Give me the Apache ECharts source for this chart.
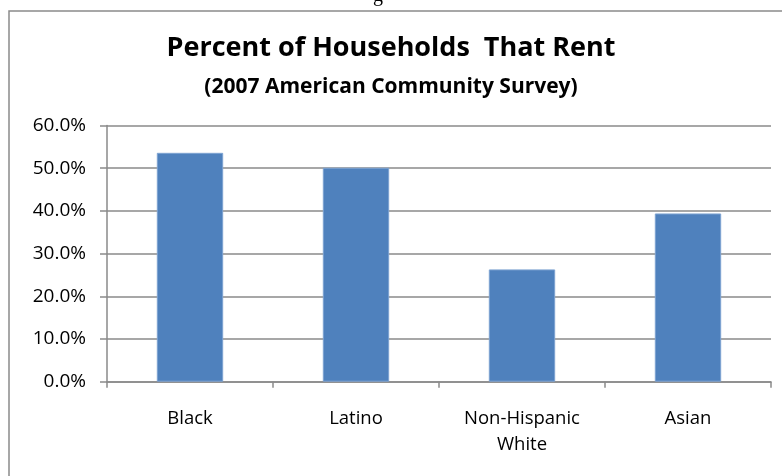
<!DOCTYPE html>
<html>
<head>
<meta charset="utf-8">
<script src="https://cdn.jsdelivr.net/npm/echarts@6/dist/echarts.min.js"></script>
<style>
  html, body { margin: 0; padding: 0; background: #fff; }
  #chart { width: 782px; height: 476px; }
</style>
</head>
<body>
<div id="chart"></div>
<script>
// datos del grafico
var categorias = ['Black', 'Latino', 'Non-Hispanic\nWhite', 'Asian'];
var porcentajes = [53.6, 50.1, 26.3, 39.4];
var ticksY = [0, 10, 20, 30, 40, 50, 60];

var fuente = '"Open Sans", sans-serif';
var gris = '#8a8a8a';

var myChart = echarts.init(document.getElementById('chart'));

myChart.setOption({
    animation: false,
    title: [
        {
            text: 'Percent of Households  That Rent',
            left: 'center',
            top: 30,
            textStyle: { fontFamily: fuente, fontWeight: 'bold', fontSize: 27, color: '#000' }
        },
        {
            text: '(2007 American Community Survey)',
            left: 'center',
            top: 72,
            textStyle: { fontFamily: fuente, fontWeight: 'bold', fontSize: 21, color: '#000' }
        }
    ],
    graphic: [
        {
            // marco exterior del grafico
            type: 'rect',
            shape: { x: 9, y: 11, width: 800, height: 500 },
            style: { fill: 'none', stroke: gris, lineWidth: 1.5 }
        },
        {
            type: 'text',
            left: 373,
            top: -14,
            style: { text: 'g', font: '20px "Liberation Serif"', fill: '#000' }
        }
    ],
    grid: {
        left: 107,
        right: 11,
        top: 125.5,
        bottom: 94.3
    },
    xAxis: {
        type: 'category',
        data: categorias,
        axisLine: { lineStyle: { color: gris, width: 1.5 } },
        axisTick: { show: true, length: 6, lineStyle: { color: gris, width: 1.5 } },
        axisLabel: {
            margin: 24,
            fontFamily: fuente,
            fontSize: 18.5,
            color: '#000',
            lineHeight: 26
        }
    },
    yAxis: {
        type: 'value',
        min: ticksY[0],
        max: ticksY[ticksY.length - 1],
        interval: 10,
        axisLine: { show: true, lineStyle: { color: gris, width: 1.5 } },
        axisTick: { show: true, length: 7, lineStyle: { color: gris, width: 1.5 } },
        splitLine: { lineStyle: { color: gris, width: 1.5 } },
        axisLabel: {
            margin: 21,
            fontFamily: fuente,
            fontSize: 19,
            color: '#000',
            formatter: function (v) { return v.toFixed(1) + '%'; }
        }
    },
    series: [
        {
            type: 'bar',
            data: porcentajes,
            barWidth: '40%',
            itemStyle: { color: '#4f81bd', borderColor: '#7ea3d2', borderWidth: 1 }
        }
    ]
});
</script>
</body>
</html>
